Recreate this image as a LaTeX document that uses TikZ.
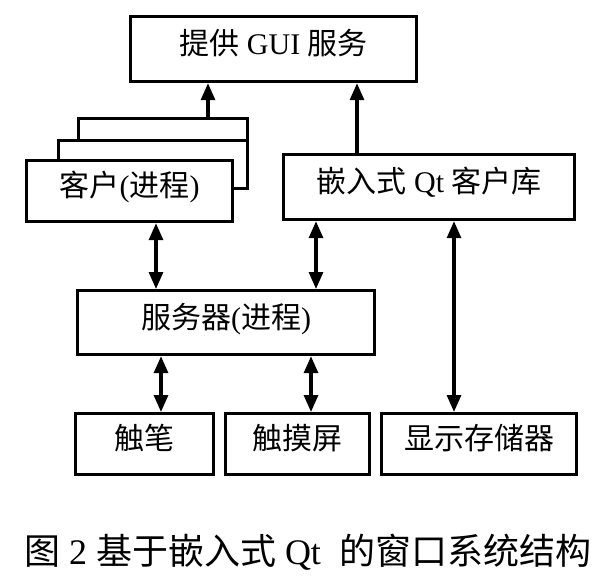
\documentclass[tikz,border=0pt]{standalone}
\usepackage{fontspec}
\setmainfont{Liberation Serif}
\newfontfamily\cjk{Noto Sans CJK SC}
\usetikzlibrary{arrows.meta}
\tikzset{
  boxnode/.style={draw, line width=3.2pt, rectangle, inner sep=0pt, anchor=north west, fill=white,
    font=\fontsize{30}{30}\selectfont, text height=25pt, text depth=14pt, align=center},
  tipa/.tip={Triangle[length=17pt,width=14pt]},
  arr/.style={line width=3.2pt, -tipa},
  darr/.style={line width=3.2pt, tipa-tipa},
}
\begin{document}
\begin{tikzpicture}[x=1pt,y=-1pt]
\useasboundingbox[fill=white] (0,0) rectangle (605,588);
\node[boxnode, minimum width=286pt, minimum height=65pt] (top) at (129,15) {{\cjk 提供} GUI {\cjk 服务}};
\node[boxnode, minimum width=169pt, minimum height=70pt] (back) at (77,117) {};
\node[boxnode, minimum width=189pt, minimum height=48pt] (mid) at (57,139) {};
\node[boxnode, minimum width=206pt, minimum height=61pt] (front) at (25,159) {{\cjk 客户}({\cjk 进程})};
\node[boxnode, minimum width=291pt, minimum height=65pt] (qt) at (282,153) {{\cjk 嵌入式} Qt {\cjk 客户库}};
\node[boxnode, minimum width=297pt, minimum height=64pt] (server) at (76,289) {{\cjk 服务器}({\cjk 进程})};
\node[boxnode, minimum width=138pt, minimum height=61pt] (pen) at (74,412) {\cjk 触笔};
\node[boxnode, minimum width=144pt, minimum height=61pt] (touch) at (224,412) {\cjk 触摸屏};
\node[boxnode, minimum width=195pt, minimum height=61pt] (disp) at (380,412) {\cjk 显示存储器};
\node[font=\fontsize{36}{36}\selectfont] (cap) at (307.5,552) {{\cjk 图} 2 {\cjk 基于嵌入式} Qt\ \ {\cjk 的窗口系统结构}};
\coordinate (xA) at (208,0);
\coordinate (xB) at (357,0);
\coordinate (xC) at (156,0);
\coordinate (xD) at (316,0);
\coordinate (xE) at (161,0);
\coordinate (xF) at (311,0);
\coordinate (xG) at (454,0);
\draw[arr] (back.north -| xA) -- (top.south -| xA);
\draw[arr] (qt.north -| xB) -- (top.south -| xB);
\draw[darr] (front.south -| xC) -- (server.north -| xC);
\draw[darr] (qt.south -| xD) -- (server.north -| xD);
\draw[darr] (server.south -| xE) -- (pen.north -| xE);
\draw[darr] (server.south -| xF) -- (touch.north -| xF);
\draw[darr] (qt.south -| xG) -- (disp.north -| xG);
\end{tikzpicture}
\end{document}
